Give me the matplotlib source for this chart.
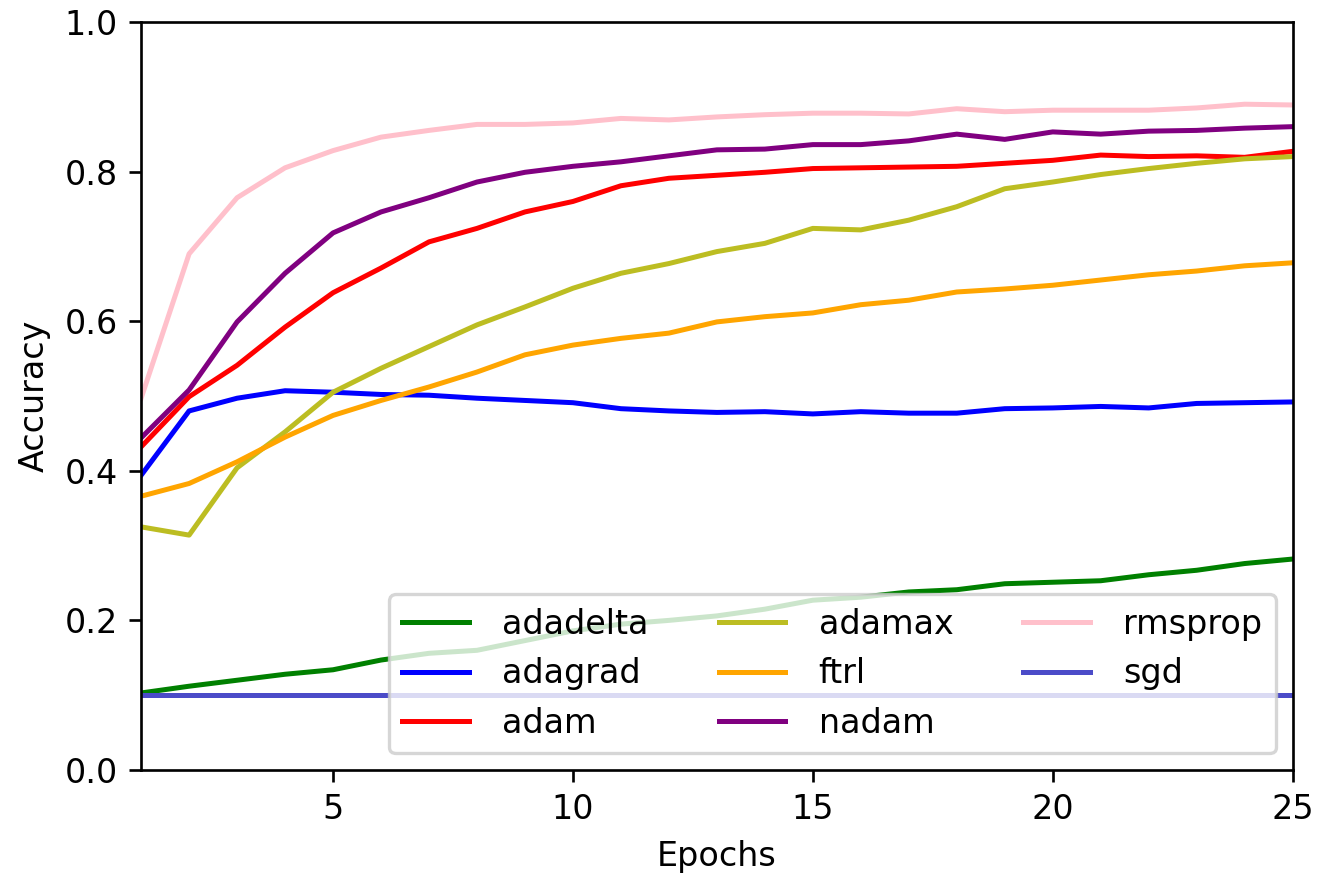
import numpy as np
import matplotlib
matplotlib.use("Agg")
import matplotlib.pyplot as plt

# Précision par époque pour chaque optimiseur
epochs = list(range(1, 26))

adadelta = [0.103, 0.112, 0.120, 0.128, 0.134, 0.147, 0.156, 0.160, 0.173, 0.186,
            0.195, 0.200, 0.206, 0.215, 0.227, 0.231, 0.238, 0.241, 0.249, 0.251,
            0.253, 0.261, 0.267, 0.276, 0.282]
adagrad = [0.394, 0.480, 0.497, 0.507, 0.505, 0.502, 0.501, 0.497, 0.494, 0.491,
           0.483, 0.480, 0.478, 0.479, 0.476, 0.479, 0.477, 0.477, 0.483, 0.484,
           0.486, 0.484, 0.490, 0.491, 0.492]
adam = [0.432, 0.499, 0.541, 0.592, 0.638, 0.671, 0.706, 0.724, 0.746, 0.760,
        0.781, 0.791, 0.795, 0.799, 0.804, 0.805, 0.806, 0.807, 0.811, 0.815,
        0.822, 0.820, 0.821, 0.819, 0.827]
adamax = [0.325, 0.314, 0.404, 0.452, 0.505, 0.537, 0.566, 0.595, 0.619, 0.644,
          0.664, 0.677, 0.693, 0.704, 0.724, 0.722, 0.735, 0.753, 0.777, 0.786,
          0.796, 0.804, 0.811, 0.817, 0.820]
ftrl = [0.366, 0.383, 0.412, 0.445, 0.474, 0.494, 0.512, 0.532, 0.555, 0.568,
        0.577, 0.584, 0.599, 0.606, 0.611, 0.622, 0.628, 0.639, 0.643, 0.648,
        0.655, 0.662, 0.667, 0.674, 0.678]
nadam = [0.444, 0.508, 0.599, 0.664, 0.718, 0.746, 0.765, 0.786, 0.799, 0.807,
         0.813, 0.821, 0.829, 0.830, 0.836, 0.836, 0.841, 0.850, 0.843, 0.853,
         0.850, 0.854, 0.855, 0.858, 0.860]
rmsprop = [0.497, 0.690, 0.765, 0.805, 0.828, 0.846, 0.855, 0.863, 0.863, 0.865,
           0.871, 0.869, 0.873, 0.876, 0.878, 0.878, 0.877, 0.884, 0.880, 0.882,
           0.882, 0.882, 0.885, 0.890, 0.889]
sgd = [0.1] * 25

noms = ["adadelta", "adagrad", "adam", "adamax", "ftrl", "nadam", "rmsprop", "sgd"]
series = [adadelta, adagrad, adam, adamax, ftrl, nadam, rmsprop, sgd]
couleurs = ["green", "blue", "red", "tab:olive", "orange", "purple", "pink", "#4b4bc8"]

fig, ax = plt.subplots(figsize=(1319 / 240, 877 / 240), dpi=240)
fig.subplots_adjust(left=0.107, right=0.980, top=0.975, bottom=0.122)

for nom, valeurs, c in zip(noms, series, couleurs):
    ax.plot(epochs, valeurs, color=c, label=nom, linewidth=1.5)

ax.set_xlim(1, 25)
ax.set_ylim(0, 1)
ax.set_xticks([5, 10, 15, 20, 25])
ax.set_xlabel("Epochs")
ax.set_ylabel("Accuracy")
ax.legend(loc="lower right", ncol=3, handletextpad=1.0, columnspacing=2.1)

plt.savefig("out.png", dpi=240)
